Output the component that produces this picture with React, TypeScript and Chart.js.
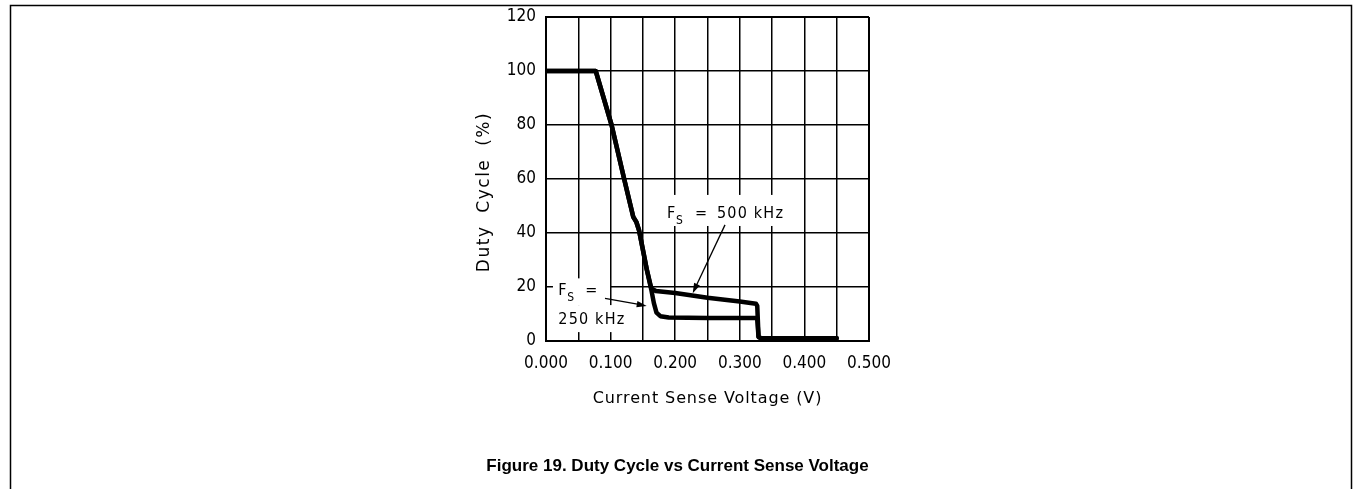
import React, { useEffect, useRef } from 'react';
import { Chart, registerables } from 'chart.js';

Chart.register(...registerables);

// ---- Data ----
const voltage500 = [0, 0.077, 0.1015, 0.121, 0.131, 0.135, 0.14, 0.144, 0.149, 0.156, 0.163, 0.17, 0.2, 0.25, 0.3, 0.325, 0.327, 0.329, 0.333, 0.45];
const duty500 = [100, 100, 80, 60, 50, 46, 44, 41, 35, 26.5, 19.5, 18.5, 17.8, 16.0, 14.6, 13.8, 13.0, 1.5, 1, 1];
const voltage250 = [0, 0.077, 0.1015, 0.121, 0.131, 0.135, 0.14, 0.144, 0.149, 0.156, 0.163, 0.167, 0.171, 0.177, 0.19, 0.25, 0.325, 0.327, 0.329, 0.333, 0.45];
const duty250 = [100, 100, 80, 60, 50, 46, 44, 41, 35, 26.5, 19, 14, 10.5, 9.2, 8.7, 8.5, 8.5, 8, 1.5, 1, 1];

const xLabels = ['0.000', '', '0.100', '', '0.200', '', '0.300', '', '0.400', '', '0.500'];
const yLabels = ['0', '20', '40', '60', '80', '100', '120'];

const xTitle = 'Current Sense Voltage (V)';
const yTitle = 'Duty Cycle (%)';
const caption = 'Figure 19. Duty Cycle vs Current Sense Voltage';

const series500Name = '500 kHz';
const series250Name = '250 kHz';

// annotation anchors in data coordinates
const label500At = { x: 0.1873, y: 45.6 };
const label250Line1At = { x: 0.019, y: 17.0 };
const label250Line2At = { x: 0.019, y: 6.3 };
const arrow500 = { x0: 0.2771, y0: 43.0, x1: 0.2271, y1: 17.7 };
const arrow250 = { x0: 0.0913, y0: 15.8, x1: 0.1559, y1: 13.0 };
const whiteBoxes = [
  { x0: 0.1765, x1: 0.3777, y0: 42.6, y1: 54.1 },
  { x0: 0.0108, x1: 0.0991, y0: 13.3, y1: 23.2 },
  { x0: 0.0108, x1: 0.1269, y0: 3.3, y1: 13.3 },
];

const annoFont = '16px "DejaVu Sans Condensed", "DejaVu Sans"';
const annoSubFont = '12px "DejaVu Sans Condensed", "DejaVu Sans"';

function toPoints(xs: number[], ys: number[]) {
  return xs.map((x, i) => ({ x, y: ys[i] }));
}

function drawArrow(ctx: CanvasRenderingContext2D, x0: number, y0: number, x1: number, y1: number) {
  const ang = Math.atan2(y1 - y0, x1 - x0);
  const len = 10;
  const half = 3.2;
  ctx.beginPath();
  ctx.moveTo(x0, y0);
  ctx.lineTo(x1 - Math.cos(ang) * len * 0.8, y1 - Math.sin(ang) * len * 0.8);
  ctx.stroke();
  ctx.beginPath();
  ctx.moveTo(x1, y1);
  ctx.lineTo(x1 - Math.cos(ang) * len + Math.sin(ang) * half, y1 - Math.sin(ang) * len - Math.cos(ang) * half);
  ctx.lineTo(x1 - Math.cos(ang) * len - Math.sin(ang) * half, y1 - Math.sin(ang) * len + Math.cos(ang) * half);
  ctx.closePath();
  ctx.fill();
}

function drawFs(ctx: CanvasRenderingContext2D, px: number, py: number, eqOffset: number, rest?: string) {
  ctx.font = annoFont;
  (ctx as any).letterSpacing = '1.2px';
  ctx.textAlign = 'left';
  ctx.textBaseline = 'alphabetic';
  ctx.fillText('F', px, py);
  ctx.font = annoSubFont;
  ctx.fillText('S', px + 9, py + 6);
  ctx.font = annoFont;
  ctx.fillText('=', px + eqOffset, py);
  if (rest) ctx.fillText(rest, px + 50, py);
}

const annotationPlugin = {
  id: 'figureAnnotations',
  beforeDatasetsDraw(chart: any) {
    const { ctx, scales } = chart;
    const xs = scales.x;
    const ys = scales.y;
    ctx.save();
    ctx.fillStyle = '#ffffff';
    for (const b of whiteBoxes) {
      const l = xs.getPixelForValue(b.x0);
      const r = xs.getPixelForValue(b.x1);
      const t = ys.getPixelForValue(b.y1);
      const btm = ys.getPixelForValue(b.y0);
      ctx.fillRect(l, t, r - l, btm - t);
    }
    ctx.restore();
  },
  afterDatasetsDraw(chart: any) {
    const { ctx, scales, chartArea } = chart;
    const xs = scales.x;
    const ys = scales.y;
    ctx.save();
    ctx.fillStyle = '#000';
    ctx.strokeStyle = '#000';
    ctx.lineWidth = 1.3;
    drawFs(ctx, xs.getPixelForValue(label500At.x), ys.getPixelForValue(label500At.y), 28, series500Name);
    drawFs(ctx, xs.getPixelForValue(label250Line1At.x), ys.getPixelForValue(label250Line1At.y), 27);
    ctx.font = annoFont;
    (ctx as any).letterSpacing = '1.2px';
    ctx.fillText(series250Name, xs.getPixelForValue(label250Line2At.x), ys.getPixelForValue(label250Line2At.y));
    (ctx as any).letterSpacing = '0px';
    drawArrow(ctx, xs.getPixelForValue(arrow500.x0), ys.getPixelForValue(arrow500.y0), xs.getPixelForValue(arrow500.x1), ys.getPixelForValue(arrow500.y1));
    drawArrow(ctx, xs.getPixelForValue(arrow250.x0), ys.getPixelForValue(arrow250.y0), xs.getPixelForValue(arrow250.x1), ys.getPixelForValue(arrow250.y1));
    ctx.restore();

    // axis titles (drawn here for letter / word spacing control)
    ctx.save();
    ctx.fillStyle = '#000';
    ctx.textAlign = 'center';
    ctx.textBaseline = 'middle';
    ctx.font = '16px "DejaVu Sans"';
    (ctx as any).letterSpacing = '0.9px';
    ctx.fillText(xTitle, (chartArea.left + chartArea.right) / 2, chartArea.bottom + 58);
    ctx.restore();

    ctx.save();
    ctx.translate(ys.left + 18.5, (chartArea.top + chartArea.bottom) / 2 + 13);
    ctx.rotate(-Math.PI / 2);
    ctx.font = '17px "DejaVu Sans"';
    (ctx as any).letterSpacing = '1.5px';
    (ctx as any).wordSpacing = '6px';
    ctx.textAlign = 'center';
    ctx.textBaseline = 'middle';
    ctx.fillStyle = '#000';
    ctx.fillText(yTitle, 0, 0);
    ctx.restore();
  },
  afterDraw(chart: any) {
    const { ctx, width, height } = chart;
    ctx.save();
    (ctx as any).letterSpacing = '0px';
    ctx.strokeStyle = '#000';
    ctx.lineWidth = 1.5;
    ctx.beginPath();
    ctx.moveTo(10.5, height);
    ctx.lineTo(10.5, 5.5);
    ctx.lineTo(width - 3.5, 5.5);
    ctx.lineTo(width - 3.5, height);
    ctx.stroke();
    ctx.fillStyle = '#000';
    ctx.font = 'bold 17px "Liberation Sans", Arial, sans-serif';
    ctx.textAlign = 'center';
    ctx.textBaseline = 'alphabetic';
    ctx.fillText(caption, width / 2, 471);
    ctx.restore();
  },
};

export default function App() {
  const ref = useRef<HTMLCanvasElement | null>(null);

  useEffect(() => {
    if (!ref.current) return;
    const edge = (n: number) => (c: any) => (c.index === 0 || c.index === n ? 2 : 1.5);
    const chart = new Chart(ref.current, {
      type: 'line',
      data: {
        datasets: [
          {
            label: series500Name,
            data: toPoints(voltage500, duty500),
            borderColor: '#000',
            borderWidth: 4.5,
            pointRadius: 0,
            fill: false,
            tension: 0,
            borderJoinStyle: 'round',
            borderCapStyle: 'round',
          },
          {
            label: series250Name,
            data: toPoints(voltage250, duty250),
            borderColor: '#000',
            borderWidth: 4.5,
            pointRadius: 0,
            fill: false,
            tension: 0,
            borderJoinStyle: 'round',
            borderCapStyle: 'round',
          },
        ],
      },
      options: {
        animation: false,
        responsive: false,
        devicePixelRatio: 1,
        events: [],
        layout: { padding: { left: 466, right: 486, top: 17, bottom: 68 } },
        plugins: {
          legend: { display: false },
          tooltip: { enabled: false },
          title: { display: false },
        },
        scales: {
          x: {
            type: 'linear',
            min: 0,
            max: 0.5,
            afterFit: (s: any) => { s.height = 80; s.paddingLeft = 0; s.paddingRight = 0; s.paddingTop = 0; s.paddingBottom = 0; },
            grid: { color: '#000', lineWidth: edge(10), drawTicks: false },
            border: { display: true, color: '#000', width: 2 },
            ticks: {
              stepSize: 0.05,
              autoSkip: false,
              maxRotation: 0,
              padding: 12,
              color: '#000',
              font: { family: '"DejaVu Sans Condensed", "DejaVu Sans"', size: 17 },
              callback: (_v: any, i: number) => xLabels[i] ?? '',
            },
            title: { display: false, text: xTitle },
          },
          y: {
            type: 'linear',
            min: 0,
            max: 120,
            afterFit: (s: any) => { s.width = 80; s.paddingLeft = 0; s.paddingRight = 0; s.paddingTop = 0; s.paddingBottom = 0; },
            grid: { color: '#000', lineWidth: edge(6), drawTicks: false },
            border: { display: true, color: '#000', width: 2 },
            ticks: {
              stepSize: 20,
              padding: 10,
              color: '#000',
              font: { family: '"DejaVu Sans Condensed", "DejaVu Sans"', size: 17 },
              callback: (_v: any, i: number) => yLabels[i] ?? '',
            },
            title: { display: false, text: yTitle },
          },
        },
      },
      plugins: [annotationPlugin],
    } as any);
    return () => chart.destroy();
  }, []);

  return (
    <div style={{ position: 'absolute', left: 0, top: 0, width: 1355, height: 489, background: '#fff' }}>
      <canvas ref={ref} width={1355} height={489} style={{ display: 'block', width: 1355, height: 489 }} />
    </div>
  );
}
